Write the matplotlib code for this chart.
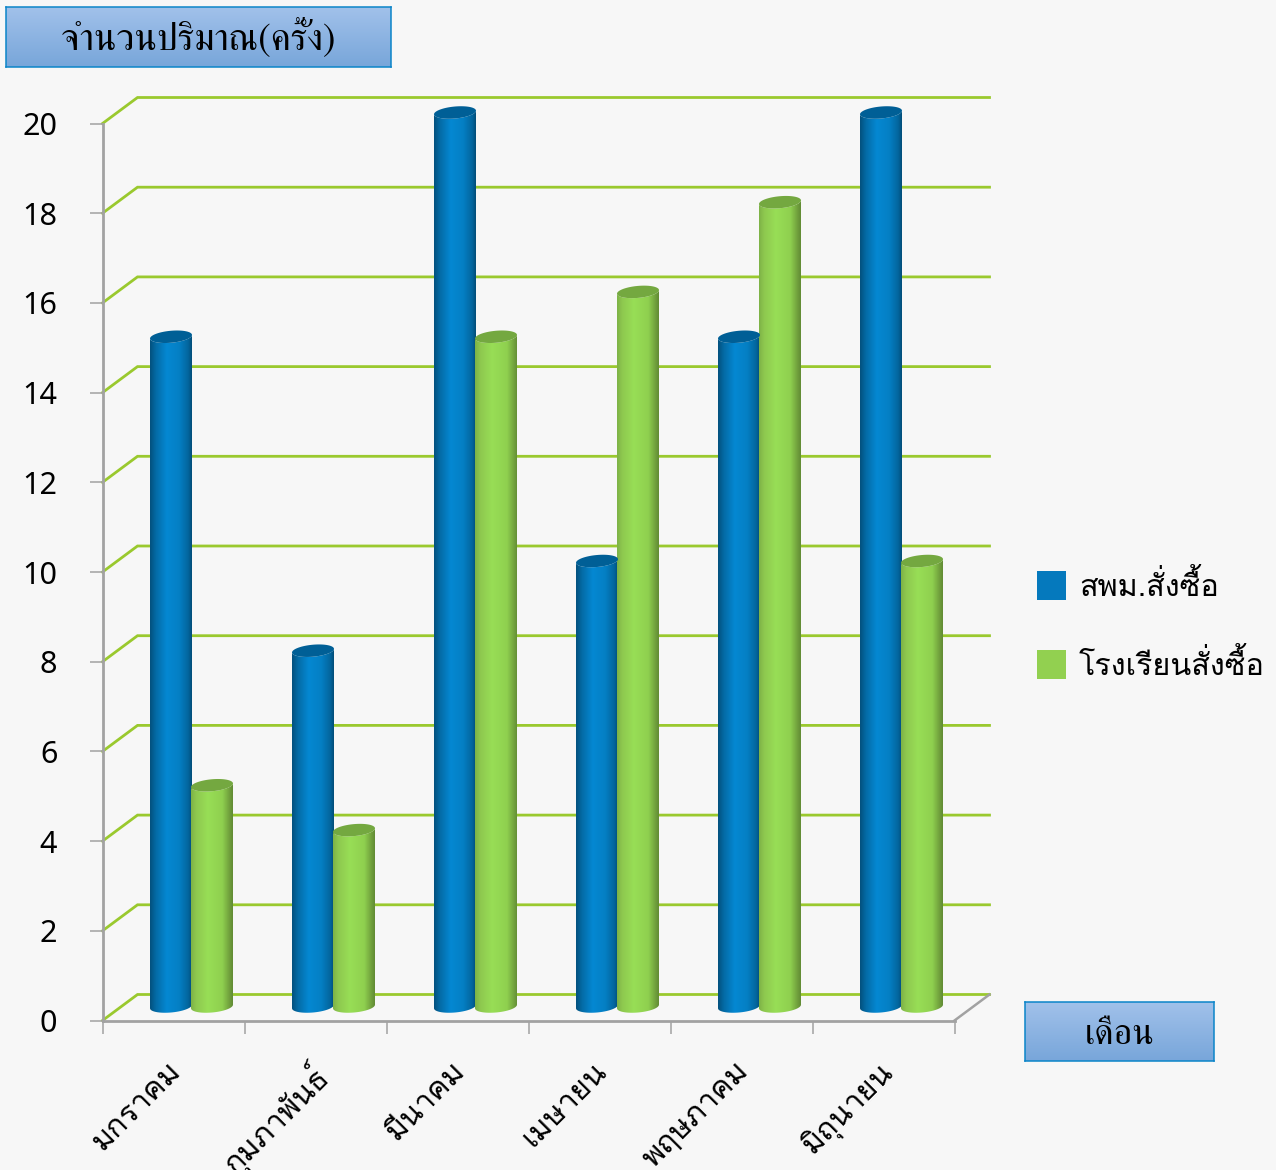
import numpy as np
import matplotlib
matplotlib.use('Agg')
import matplotlib.pyplot as plt
from matplotlib.patches import Patch, PathPatch, Polygon
from matplotlib.path import Path

FONT_AXIS = ['Loma', 'Noto Sans']
FONT_BOX = ['FreeSerif', 'Noto Sans']

categories = ['มกราคม', 'กุมภาพันธ์', 'มีนาคม', 'เมษายน', 'พฤษภาคม', 'มิถุนายน']
blue_values = [15, 8, 20, 10, 15, 20]
green_values = [5, 4, 15, 16, 18, 10]
series_names = ['สพม.สั่งซื้อ', 'โรงเรียนสั่งซื้อ']
y_title = 'จำนวนปริมาณ(ครั้ง)'
x_title = 'เดือน'
y_ticks = list(range(0, 21, 2))

W, H = 1276, 1170
BG = '#f7f7f7'
GRID = '#9ac92e'
AXIS = '#a2a2a2'

# one data unit in pixels: x 142, y 44.85
DEPTH_X = 35 / 142
DEPTH_Y = 26 / 44.85
BAR_W = 42 / 142
CAP_H = 6 / 44.85
TILT = 1.8 / 44.85
BOTTOM = 14 / 44.85
TOP = 11 / 44.85

fig = plt.figure(figsize=(W / 100, H / 100), dpi=100, facecolor=BG)
ax = fig.add_axes([102.5 / W, 1 - 1020.5 / H, 852 / W, 897 / H], facecolor='none')


def rim(x0, y, t):
    # slightly tilted ellipse, the right side sits higher than the left
    return (x0 + BAR_W / 2 + BAR_W / 2 * np.cos(t),
            y + CAP_H * np.sin(t) + TILT * np.cos(t))


def cylinder(x0, value, stops, top_color):
    x = np.linspace(0, 1, 64)
    pos, cols = zip(*stops)
    cols = np.array([matplotlib.colors.to_rgb(c) for c in cols])
    grad = np.stack([np.interp(x, pos, cols[:, i]) for i in range(3)], axis=1)[None, :, :]
    xs_b, ys_b = rim(x0, BOTTOM, np.linspace(np.pi, 2 * np.pi, 30))
    xs_t, ys_t = rim(x0, value + TOP, np.linspace(0, -np.pi, 30))
    xy = list(zip(xs_b, ys_b)) + list(zip(xs_t, ys_t)) + [(xs_b[0], ys_b[0])]
    clip = PathPatch(Path(xy), transform=ax.transData, fc='none', ec='none')
    ax.add_patch(clip)
    im = ax.imshow(grad, extent=[x0, x0 + BAR_W, BOTTOM - 2 * CAP_H, value + TOP + 2 * CAP_H],
                   aspect='auto', zorder=3)
    im.set_clip_box(fig.bbox)
    im.set_clip_path(clip)
    xs_c, ys_c = rim(x0, value + TOP, np.linspace(0, 2 * np.pi, 60))
    cap = Polygon(np.column_stack([xs_c, ys_c]), fc=top_color, ec='none', zorder=3.1, clip_on=False)
    ax.add_patch(cap)


blue_stops = [(0, '#03527f'), (0.14, '#046ba6'), (0.4, '#0588d2'), (0.7, '#047fc4'), (0.92, '#03659d'), (1, '#024f7a')]
green_stops = [(0, '#7eb347'), (0.12, '#8ec84f'), (0.4, '#98de56'), (0.75, '#8fd04f'), (0.93, '#6f9e3c'), (1, '#628c35')]

# back wall gridlines and their diagonal returns
for v in y_ticks:
    ax.plot([0, DEPTH_X, 6 + DEPTH_X], [v, v + DEPTH_Y, v + DEPTH_Y], color=GRID, lw=2.0,
            clip_on=False, zorder=1, solid_joinstyle='miter')

# floor
ax.plot([6, 6 + DEPTH_X], [0, DEPTH_Y], color=AXIS, lw=1.8, clip_on=False, zorder=1.5)

for i in range(6):
    cylinder(i + 47.5 / 142, blue_values[i], blue_stops, '#005f96')
    cylinder(i + 47.5 / 142 + 41 / 142, green_values[i], green_stops, '#74a840')

ax.set_xlim(0, 6)
ax.set_ylim(0, 20)
for s in ['top', 'right']:
    ax.spines[s].set_visible(False)
for s in ['left', 'bottom']:
    ax.spines[s].set_color(AXIS)
    ax.spines[s].set_linewidth(2.0)

ax.set_yticks(y_ticks)
ax.tick_params(axis='y', length=9.5, width=1.1, color=AXIS, pad=23, labelsize=22, labelcolor='black')
for t in ax.get_yticklabels():
    t.set_family(['Noto Sans'])

ax.set_xticks(range(7))
ax.set_xticklabels([])
ax.tick_params(axis='x', which='major', length=9.5, width=1.1, color=AXIS)
ax.set_xticks(np.arange(6) + 0.45, minor=True)
ax.set_xticklabels(categories, minor=True, rotation=45, ha='right', va='top', rotation_mode='anchor',
                   family=FONT_AXIS, fontsize=22)
ax.tick_params(axis='x', which='minor', length=0, pad=26)


def title_box(x0, y0, x1, y1, text, size, text_y=0.5):
    b = fig.add_axes([x0 / W, 1 - y1 / H, (x1 - x0) / W, (y1 - y0) / H])
    top = np.array(matplotlib.colors.to_rgb('#a1c1ea'))
    bot = np.array(matplotlib.colors.to_rgb('#78a6da'))
    b.imshow(np.linspace(top, bot, 60)[:, None, :], aspect='auto', extent=[0, 1, 0, 1])
    b.set_xticks([])
    b.set_yticks([])
    for s in b.spines.values():
        s.set_color('#0b85c9')
        s.set_linewidth(1.1)
    b.text(0.5, text_y, text, ha='center', va='center', family=FONT_BOX, fontsize=size, color='black')


title_box(6, 7, 391, 67, y_title, 27)
title_box(1025, 1002, 1214, 1061, x_title, 26, text_y=0.44)

handles = [Patch(fc='#0579bd', ec='none'), Patch(fc='#92d050', ec='none')]
fig.legend(handles, series_names, loc='upper left', bbox_to_anchor=(1037 / W, 1 - 570 / H), frameon=False,
           prop={'family': FONT_AXIS, 'size': 22}, handlelength=0.95, handleheight=1.08,
           handletextpad=0.42, labelspacing=1.53, borderpad=0, borderaxespad=0)

fig.savefig('out.png', dpi=100, facecolor=BG)
